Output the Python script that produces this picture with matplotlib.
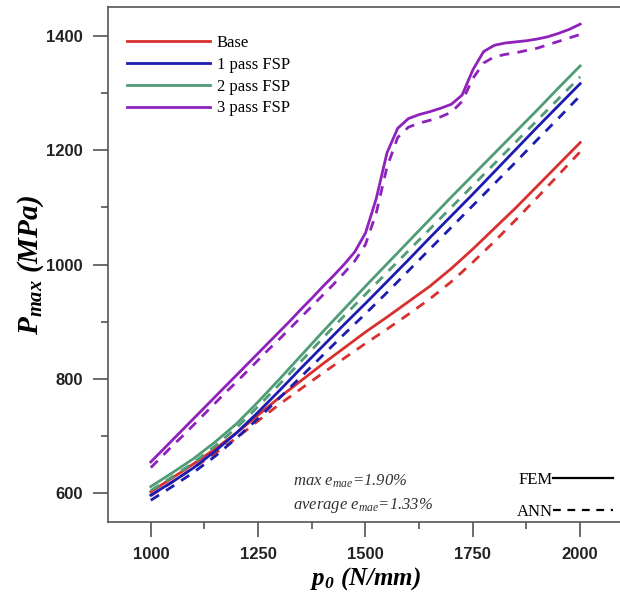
import matplotlib
matplotlib.use("Agg")
import matplotlib.pyplot as plt
from matplotlib.lines import Line2D
from matplotlib.ticker import MultipleLocator

plt.rcParams["mathtext.fontset"] = "custom"
plt.rcParams["mathtext.rm"] = "Liberation Serif"
plt.rcParams["mathtext.it"] = "Liberation Serif:italic"
plt.rcParams["mathtext.bf"] = "Liberation Serif:italic:bold"

# p0 (N/mm)
p0 = [1000, 1050, 1100, 1150, 1200, 1250, 1300, 1350, 1400, 1450, 1500,
      1550, 1600, 1650, 1700, 1750, 1800, 1850, 1900, 1950, 2000]
# finer p0 grid for the 3 pass curves (they bend sharply)
p0_fine = [1000, 1025, 1050, 1075, 1100, 1125, 1150, 1175, 1200, 1225,
           1250, 1275, 1300, 1325, 1350, 1375, 1400, 1425, 1450, 1475,
           1500, 1525, 1550, 1575, 1600, 1625, 1650, 1675, 1700, 1725,
           1750, 1775, 1800, 1825, 1850, 1875, 1900, 1925, 1950, 1975, 2000]

# Pmax (MPa), FEM results
base_fem = [603, 627, 652, 678, 706, 737, 768, 797, 826, 854, 882,
            908, 935, 962, 993, 1027, 1063, 1099, 1137, 1175, 1213]
fsp1_fem = [597, 620, 645, 674, 706, 742, 780, 819, 857, 895, 932,
            970, 1008, 1047, 1085, 1123, 1162, 1201, 1240, 1278, 1316]
fsp2_fem = [612, 636, 661, 690, 722, 760, 800, 841, 882, 922, 962,
            1001, 1040, 1079, 1118, 1156, 1194, 1232, 1270, 1309, 1347]
fsp3_fem = [655, 674, 693, 712, 731, 750, 769, 788, 807, 826,
            845, 864, 883, 902, 922, 941, 961, 980, 1000, 1022,
            1055, 1115, 1195, 1238, 1255, 1262, 1267, 1273, 1280, 1296,
            1340, 1372, 1383, 1387, 1389, 1391, 1394, 1398, 1404, 1411, 1420]

# Pmax (MPa), ANN predictions
base_ann = [596, 620, 645, 670, 697, 727, 756, 783, 810, 836, 862,
            887, 913, 940, 970, 1004, 1040, 1078, 1117, 1157, 1197]
fsp1_ann = [588, 612, 637, 665, 697, 731, 767, 804, 841, 878, 914,
            951, 989, 1027, 1065, 1103, 1141, 1179, 1218, 1256, 1295]
fsp2_ann = [605, 629, 654, 683, 715, 752, 791, 831, 871, 910, 948,
            986, 1024, 1062, 1100, 1138, 1176, 1214, 1252, 1290, 1328]
fsp3_ann = [645, 664, 683, 701, 720, 739, 758, 777, 795, 814,
            833, 852, 870, 889, 908, 927, 946, 965, 985, 1006,
            1035, 1090, 1170, 1222, 1240, 1247, 1252, 1258, 1266, 1285,
            1325, 1352, 1363, 1367, 1370, 1374, 1378, 1384, 1390, 1396, 1402]

labels = ["Base", "1 pass FSP", "2 pass FSP", "3 pass FSP"]
colors = ["#d8302e", "#1c1cb0", "#4f9c76", "#8e22bb"]
xs = [p0, p0, p0, p0_fine]
fem = [base_fem, fsp1_fem, fsp2_fem, fsp3_fem]
ann = [base_ann, fsp1_ann, fsp2_ann, fsp3_ann]

fig = plt.figure(figsize=(6.2, 6.01), dpi=100)
ax = fig.add_axes([0.174, 0.1314, 0.831, 0.857])

handles = []
for lab, c, x, yf, ya in zip(labels, colors, xs, fem, ann):
    h, = ax.plot(x, yf, color=c, lw=2.0, label=lab)
    ax.plot(x, ya, color=c, lw=2.0, linestyle=(0, (3.5, 3)))
    handles.append(h)

ax.set_xlim(900, 2100)
ax.set_ylim(550, 1450)
ax.xaxis.set_major_locator(MultipleLocator(250))
ax.xaxis.set_minor_locator(MultipleLocator(125))
ax.yaxis.set_major_locator(MultipleLocator(200))
ax.yaxis.set_minor_locator(MultipleLocator(100))
ax.tick_params(which="major", direction="out", length=11, width=1.1,
               color="#444444", pad=7)
ax.tick_params(which="minor", direction="out", length=5, width=1.1,
               color="#444444")
for lbl in ax.get_xticklabels() + ax.get_yticklabels():
    lbl.set_fontfamily("Liberation Sans")
    lbl.set_fontweight("bold")
    lbl.set_fontsize(12)
    lbl.set_color("#222222")
for s in ax.spines.values():
    s.set_color("#555555")
    s.set_linewidth(1.2)

ax.set_xlabel(r"$\mathbf{p_{0}}$ (N/mm)", family="Liberation Serif",
              style="italic", weight="bold", fontsize=18, labelpad=2)
ax.set_ylabel(r"$\mathbf{P_{max}}$ (MPa)", family="Liberation Serif",
              style="italic", weight="bold", fontsize=21, labelpad=0)

type_handles = [Line2D([], [], color="black", lw=1.6),
                Line2D([], [], color="black", lw=1.6, linestyle=(0, (3.5, 3)))]
leg2 = ax.legend(handles=type_handles, labels=["FEM", "ANN"],
                 loc="lower right", bbox_to_anchor=(0.997, -0.012),
                 frameon=False, markerfirst=False,
                 prop={"family": "Liberation Serif", "size": 12},
                 handlelength=3.6, handletextpad=0.05, labelspacing=0.95,
                 borderpad=0)
ax.add_artist(leg2)
ax.legend(handles=handles, loc="upper left", bbox_to_anchor=(0.02, 0.962),
          frameon=False, prop={"family": "Liberation Serif", "size": 12},
          handlelength=5.0, handletextpad=0.4, labelspacing=0.35, borderpad=0)

ax.text(0.36, 0.071, r"max $\mathit{e_{mae}}$=1.90%", transform=ax.transAxes,
        family="Liberation Serif", style="italic", fontsize=12, color="#333333")
ax.text(0.36, 0.026, r"average $\mathit{e_{mae}}$=1.33%", transform=ax.transAxes,
        family="Liberation Serif", style="italic", fontsize=12, color="#333333")

fig.savefig("out.png", dpi=100, facecolor="white")
